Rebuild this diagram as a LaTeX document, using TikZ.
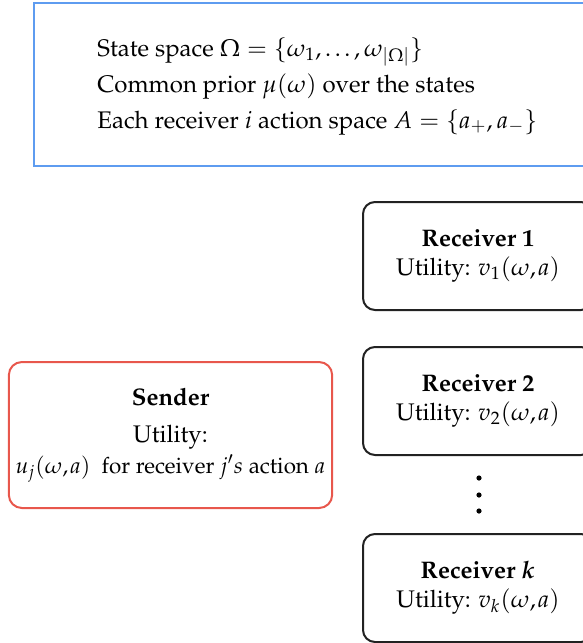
\documentclass[tikz,border=0pt]{standalone}
\usepackage[T1]{fontenc}
\usepackage{amsmath,amssymb}
\usepackage{mathpazo}
\usepackage{tikz}
\usetikzlibrary{positioning}
\definecolor{infoblue}{HTML}{5E9CF0}
\definecolor{sendred}{HTML}{E8574C}
\definecolor{boxgray}{HTML}{222222}
\newcommand{\oa}{(\omega,\mkern-1.5mu a)}
\tikzset{
    infobox/.style={draw=infoblue,line width=1pt,minimum width=320pt,minimum height=81.5pt,inner sep=0pt},
    infotext/.style={align=left,font=\fontsize{12}{18}\selectfont,inner sep=0pt},
    recv/.style={draw=boxgray,line width=1pt,rounded corners=6pt,minimum width=115pt,minimum height=54pt,align=center,font=\fontsize{12}{14.5}\selectfont},
    sendr/.style={draw=sendred,line width=1pt,rounded corners=6.5pt,minimum width=161.5pt,minimum height=73pt,align=center,font=\fontsize{12}{15.5}\selectfont},
}

\begin{document}
\begin{tikzpicture}[x=0.5pt,y=-0.5pt]
    \useasboundingbox (0,0) rectangle (583,643);
    \clip (0,0) rectangle (583,643);

    % model description
    \node[infobox,anchor=north west] (info) at (33,2) {};
    \node[infotext,anchor=west] (infotxt) at (97,86)
        {State space $\Omega=\{\omega_1,\text{\textellipsis},\omega_{|\Omega|}\}$\\
         Common prior $\mu(\omega)$ over the states\\
         Each receiver $i$ action space $A=\{a_+,a_-\}$};

    % receivers
    \node[recv] (r1) at (478,256) {\textbf{Receiver 1}\\Utility: $v_1\oa$};
    \node[recv] (r2) at (478,401) {\textbf{Receiver 2}\\Utility: $v_2\oa$};
    \node[recv] (rk) at (478,588) {\textbf{Receiver $\boldsymbol{k}$}\\Utility: $v_k\oa$};
    \foreach \y in {478,495,511}
        \fill (479,\y) circle (1.3pt);

    % sender
    \node[sendr] (snd) at (170.5,435) {\textbf{Sender}\\[3pt]Utility:\\{\fontsize{11.2}{15.5}\selectfont$u_j\oa$\ \ for receiver $j's$ action $a$}};
\end{tikzpicture}
\end{document}
